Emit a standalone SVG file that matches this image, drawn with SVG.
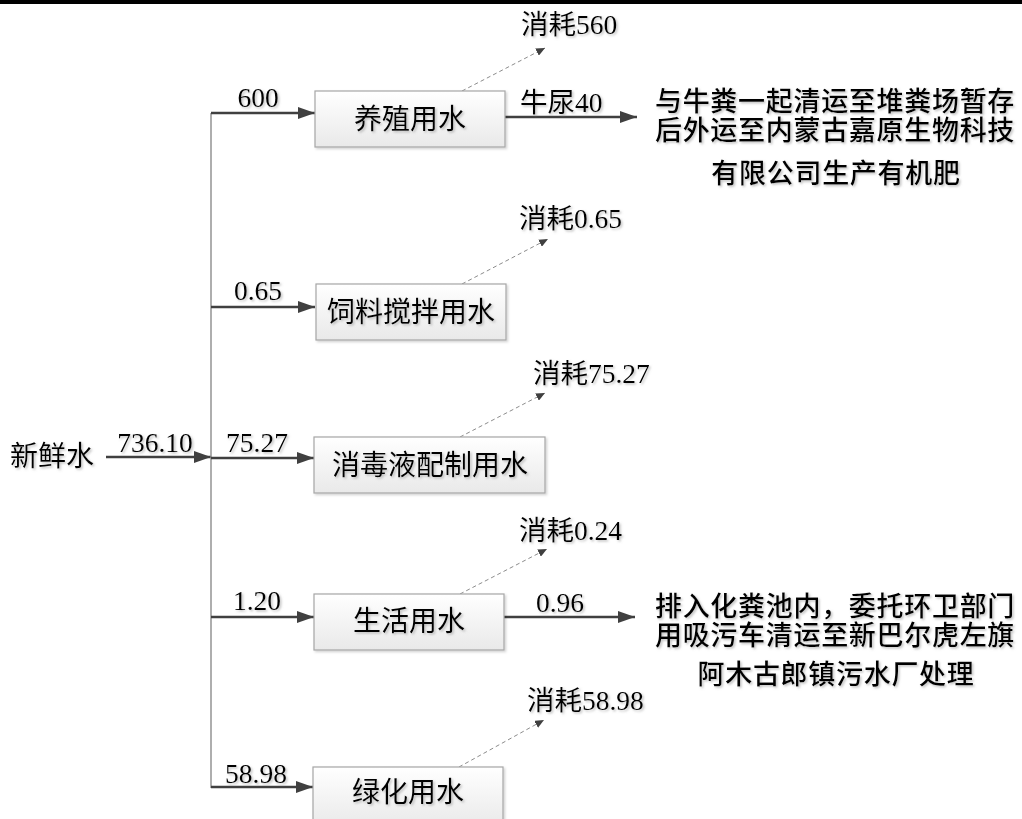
<svg xmlns="http://www.w3.org/2000/svg" width="1022" height="819" viewBox="0 0 1022 819">
<style>
.box{fill:url(#bg);stroke:#a6a6a6;stroke-width:1.2}
.bl{font-family:"Noto Sans CJK SC","Noto Sans",sans-serif;font-size:28px;fill:#000;text-anchor:middle}
.dest{font-family:"Noto Sans CJK SC","Noto Sans",sans-serif;font-size:27px;letter-spacing:0.7px;fill:#000;text-anchor:middle;font-weight:500}
.num{font-family:"Liberation Serif","Noto Sans CJK SC",serif;font-size:27.5px;fill:#000}
.cons{font-family:"Liberation Serif","Noto Sans CJK SC",serif;font-size:27.5px;fill:#000}
.main{stroke:#404040;stroke-width:2.6;fill:none;marker-end:url(#ah)}
.trunk{stroke:#8c8c8c;stroke-width:1.4;fill:none}
.dash{stroke:#8c8c8c;stroke-width:1;stroke-dasharray:4 3;fill:none;marker-end:url(#ahs)}
.sh{filter:url(#ts)}
</style>
<defs>
<linearGradient id="bg" x1="0" y1="0" x2="0" y2="1">
<stop offset="0" stop-color="#ffffff"/>
<stop offset="1" stop-color="#e9e9e9"/>
</linearGradient>
<filter id="ts" x="-10%" y="-30%" width="120%" height="160%">
<feDropShadow dx="1.5" dy="1.5" stdDeviation="0.8" flood-color="#8c8c8c" flood-opacity="0.55"/>
</filter>
<filter id="bs" x="-10%" y="-10%" width="120%" height="130%">
<feDropShadow dx="1.5" dy="1.5" stdDeviation="1" flood-color="#000" flood-opacity="0.18"/>
</filter>
<marker id="ah" markerUnits="userSpaceOnUse" markerWidth="17" markerHeight="12" refX="17" refY="6" orient="auto">
<path d="M0,0 L17,6 L0,12 z" fill="#404040"/>
</marker>
<marker id="ahs" markerUnits="userSpaceOnUse" markerWidth="9" markerHeight="8" refX="9" refY="4" orient="auto">
<path d="M0,0 L9,4 L0,8 z" fill="#404040"/>
</marker>
</defs>
<rect x="0" y="0" width="1022" height="4" fill="#000"/>

<g id="connectors">
<line class="main" x1="106" y1="457" x2="211" y2="457"/>
<line class="trunk" x1="211" y1="113" x2="211" y2="788"/>
<line class="main" x1="211" y1="113" x2="315" y2="113"/>
<line class="main" x1="211" y1="307" x2="315" y2="307"/>
<line class="main" x1="211" y1="458" x2="314" y2="458"/>
<line class="main" x1="211" y1="617" x2="314" y2="617"/>
<line class="main" x1="211" y1="787" x2="313" y2="787"/>
<line class="main" x1="505" y1="117" x2="637" y2="117"/>
<line class="main" x1="504" y1="617" x2="635" y2="617"/>
<line class="dash" x1="462" y1="91" x2="545" y2="48"/>
<line class="dash" x1="462" y1="284" x2="548" y2="239"/>
<line class="dash" x1="460" y1="437" x2="545" y2="393"/>
<line class="dash" x1="460" y1="594" x2="547" y2="549"/>
<line class="dash" x1="459" y1="767" x2="544" y2="720"/>
</g>

<g id="edge-labels" class="sh">
<text class="num" x="155" y="452" text-anchor="middle">736.10</text>
<text class="num" x="258" y="107" text-anchor="middle">600</text>
<text class="num" x="258" y="300" text-anchor="middle">0.65</text>
<text class="num" x="257" y="452" text-anchor="middle">75.27</text>
<text class="num" x="257" y="610" text-anchor="middle">1.20</text>
<text class="num" x="256" y="783" text-anchor="middle">58.98</text>
<text class="num" x="520" y="112">牛尿40</text>
<text class="num" x="560" y="612" text-anchor="middle">0.96</text>
</g>

<g id="fresh-water" class="sh">
<text class="bl" x="52" y="466">新鲜水</text>
</g>

<g id="node-breeding">
<rect class="box" x="315" y="91" width="190" height="56" filter="url(#bs)"/>
<text class="bl sh" x="410" y="129">养殖用水</text>
</g>
<g id="node-feed">
<rect class="box" x="316" y="284" width="190" height="56" filter="url(#bs)"/>
<text class="bl sh" x="411" y="322">饲料搅拌用水</text>
</g>
<g id="node-disinfect">
<rect class="box" x="314" y="437" width="231" height="56" filter="url(#bs)"/>
<text class="bl sh" x="430" y="475">消毒液配制用水</text>
</g>
<g id="node-domestic">
<rect class="box" x="314" y="594" width="190" height="56" filter="url(#bs)"/>
<text class="bl sh" x="409" y="631">生活用水</text>
</g>
<g id="node-greening">
<rect class="box" x="313" y="767" width="190" height="60" filter="url(#bs)"/>
<text class="bl sh" x="408" y="802">绿化用水</text>
</g>

<g id="loss-breeding" class="sh"><text class="cons" x="521" y="34">消耗560</text></g>
<g id="loss-feed" class="sh"><text class="cons" x="519" y="228">消耗0.65</text></g>
<g id="loss-disinfect" class="sh"><text class="cons" x="533" y="383">消耗75.27</text></g>
<g id="loss-domestic" class="sh"><text class="cons" x="519" y="540">消耗0.24</text></g>
<g id="loss-greening" class="sh"><text class="cons" x="527" y="710">消耗58.98</text></g>

<g id="dest-manure" class="sh">
<text class="dest" x="835" y="111">与牛粪一起清运至堆粪场暂存</text>
<text class="dest" x="835" y="140">后外运至内蒙古嘉原生物科技</text>
<text class="dest" x="836" y="183">有限公司生产有机肥</text>
</g>
<g id="dest-sewage" class="sh">
<text class="dest" x="835" y="616">排入化粪池内，委托环卫部门</text>
<text class="dest" x="835" y="645">用吸污车清运至新巴尔虎左旗</text>
<text class="dest" x="836" y="684">阿木古郎镇污水厂处理</text>
</g>
</svg>
